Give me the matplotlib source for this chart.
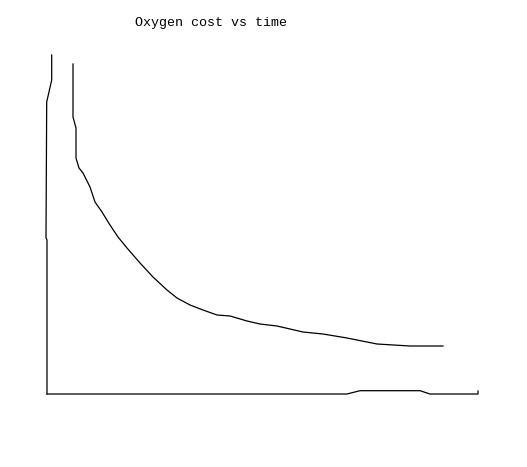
import matplotlib
matplotlib.use("Agg")
import matplotlib.pyplot as plt

# hand-drawn curve (time, oxygen cost in pixel-ish units)
time = [26, 26, 29, 29, 32, 36, 43, 48, 55, 63, 71, 80, 93, 106, 120, 130,
        143, 156, 170, 183, 200, 213, 230, 256, 276, 300, 330, 363, 396]
cost = [330, 277, 266, 236, 226, 221, 207, 192, 182, 169, 157, 146, 131, 117,
        104, 96, 89, 84, 79, 78, 73, 70, 68, 62, 60, 56, 50, 48, 48]

# the wobbly hand-drawn axes
yaxis_t = [4.7, 4.7, -0.3, -1, 0, 0]
yaxis_c = [339, 314, 292, 156, 154, 0]
xaxis_t = [0, 300, 313, 373, 383, 431, 431]
xaxis_c = [0, 0, 3.3, 3.3, 0, 0, 3]

fig = plt.figure(figsize=(5.27, 4.67), dpi=100)
ax = fig.add_axes([0, 0, 1, 1])
ax.set_xlim(-47, 480)
ax.set_ylim(-73, 394)
ax.axis('off')

ax.plot(yaxis_t, yaxis_c, color='black', lw=0.9)
ax.plot(xaxis_t, xaxis_c, color='black', lw=0.9)
ax.plot(time, cost, color='black', lw=0.9)

fig.text(211 / 527, 1 - 23 / 467, 'Oxygen cost vs time', ha='center', va='center',
         family='Liberation Mono', fontsize=9.6)

fig.savefig('out.png', dpi=100)
